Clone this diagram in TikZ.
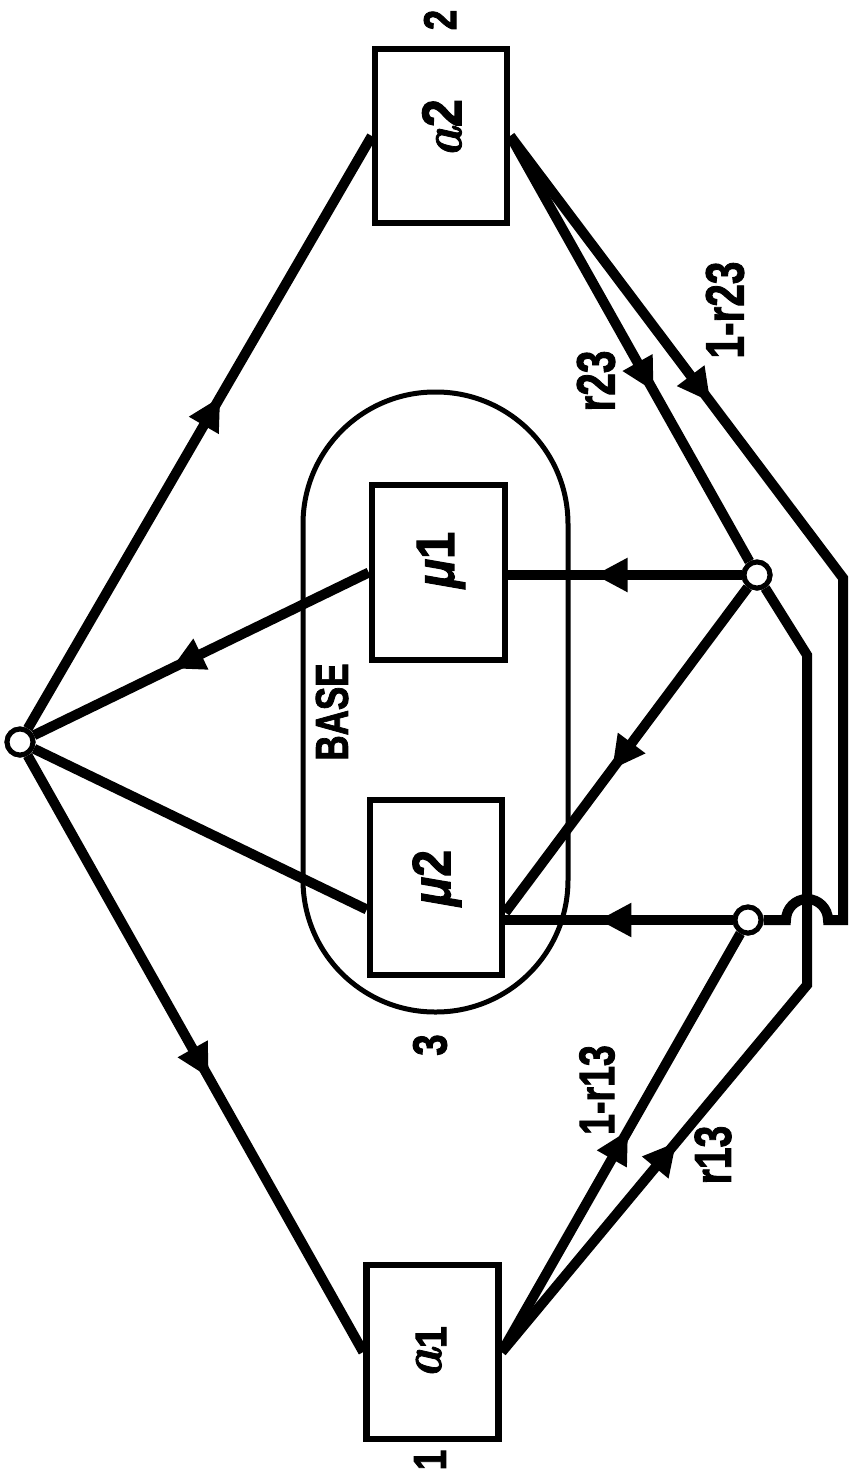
\documentclass[tikz,border=0pt]{standalone}
\usepackage{fontspec}
\setmainfont{Liberation Sans}
\newfontfamily\heavy[FakeBold=2]{Liberation Sans Bold}
\newfontfamily\heavyit[FakeBold=2]{Liberation Sans Bold Italic}
\newfontfamily\lma[FakeBold=1.5]{lmroman10-bolditalic.otf}
\usetikzlibrary{arrows.meta,decorations.markings,calc}

% narrow lettering
\newcommand{\nar}[2][0.8]{\scalebox{#1}[1]{#2}}
\newcommand{\fs}[1]{\fontsize{#1}{#1}\selectfont}

\tikzset{
  flow/.style={line width=10pt},
  blk/.style={draw, line width=6.5pt, inner sep=0pt, minimum width=132pt, minimum height=174pt},
  junction/.style={circle, draw, fill=white, line width=5pt, minimum size=26pt, inner sep=0pt},
  tri/.tip={Triangle[length=33pt,width=32pt]},
  midarrow/.style={postaction={decorate, decoration={markings, mark=at position #1 with {\arrow{tri}}}}},
  lab/.style={rotate=90, inner sep=0pt},
}

\begin{document}
\begin{tikzpicture}[x=1pt, y=-1pt]
\useasboundingbox (0,0) rectangle (849,1474);

% base enclosure
\node[draw, line width=5pt, minimum width=265pt, minimum height=620pt,
      rounded corners=132pt, inner sep=0pt] (base) at (435.5,702) {};

% blocks
\node[blk] (a2) at (441,136) {};
\node[blk] (a1) at (432.5,1352) {};
\node[blk, minimum width=133pt, minimum height=175pt] (mu1) at (438.5,572.5) {};
\node[blk, minimum height=175pt] (mu2) at (436,887.5) {};

% junctions
\node[junction] (L) at (20,742) {};
\node[junction] (P) at (757,575) {};
\node[junction] (Q) at (748,920) {};

% bends of the two long return paths
\coordinate (b1) at (843,578);
\coordinate (b2) at (843,920);
\coordinate (h1) at (828,920);
\coordinate (b3) at (807,985);
\coordinate (b4) at (807,655);

% flows out of the left junction
\draw[flow, midarrow=0.56] (L) -- (a2.west);
\draw[flow, midarrow=0.54] (L) -- (a1.west);
\draw[flow, midarrow=0.59] (mu1.west) -- (L);
\draw[flow] ([yshift=-22pt]mu2.west) -- (L);

% flows out of a2
\draw[flow, midarrow=0.60] (a2.east) -- (P);
\draw[flow, line join=miter, midarrow=333pt] (a2.east) -- (b1) -- (b2) -- (h1)
  arc[start angle=0, end angle=180, radius=21pt] -- (Q);

% flows out of a1
\draw[flow, midarrow=0.53] (a1.east) -- (Q);
\draw[flow, midarrow=273pt] (a1.east) -- (b3) -- (b4) -- (P);

% flows into the two service blocks
\draw[flow, midarrow=0.63] (P) -- (P -| mu1.east);
\draw[flow, midarrow=0.56] (P) -- ([yshift=-25pt]mu2.east);
\draw[flow, midarrow=0.59] (Q) -- (Q -| mu2.east);

% junction rings on top
\node[junction] at (L) {};
\node[junction] at (P) {};
\node[junction] at (Q) {};

% labels
\node[lab, font=\heavy\fs{46}] (n2) at (440,20) {\nar{2}};
\node[lab, font=\heavy\fs{46}] (n1) at (430,1460) {\nar{1}};
\node[lab, font=\heavy\fs{48}] (n3) at (430,1045) {\nar{3}};
\node[lab, font=\heavy\fs{56}] (ta2) at (442,128) {\nar[0.9]{{\lma a}2}};
\node[lab, font=\heavy\fs{56}] (ta1) at (431,1352) {\nar[0.9]{{\lma a}\raisebox{-5pt}{\fs{44}1}}};
\node[lab, font=\heavy\fs{54}] (tm1) at (441,560) {\nar[0.9]{{\heavyit μ}1}};
\node[lab, font=\heavy\fs{54}] (tm2) at (437,878) {\nar[0.9]{{\heavyit μ}2}};
\node[lab, font=\heavy\fs{46}] (tbase) at (332,712) {\nar[0.76]{BASE}};
\node[lab, font=\heavy\fs{54}] (tr23) at (596,381) {\nar[0.75]{r23}};
\node[lab, font=\heavy\fs{54}] (t1r23) at (725,310) {\nar[0.75]{1-r23}};
\node[lab, font=\heavy\fs{50}] (t1r13) at (597,1090) {\nar[0.75]{1-r13}};
\node[lab, font=\heavy\fs{52}] (tr13) at (713,1155) {\nar[0.75]{r13}};
\end{tikzpicture}
\end{document}
